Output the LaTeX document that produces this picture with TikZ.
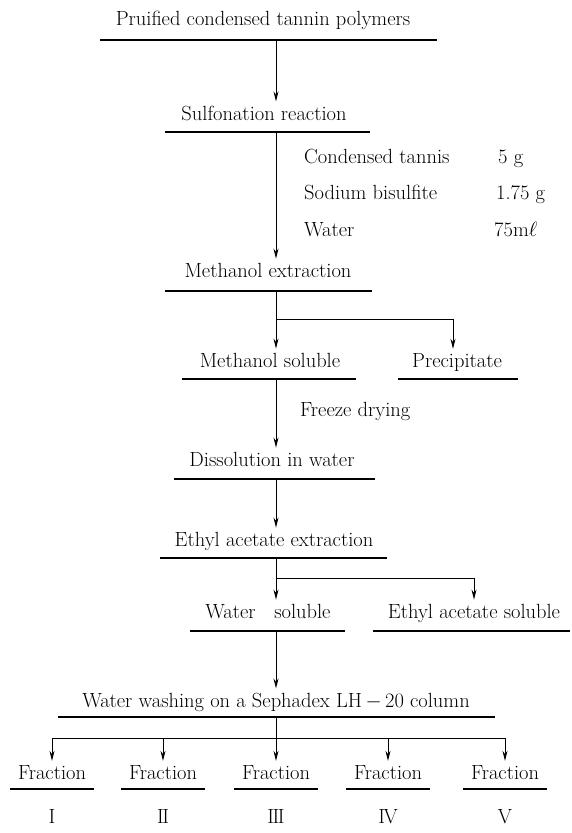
\documentclass[tikz,border=0pt]{standalone}
\usetikzlibrary{arrows.meta}
\begin{document}
\begin{tikzpicture}[x=1pt,y=-1pt,
  lbl/.style={inner sep=0pt, anchor=base, font=\fontsize{20.5}{24}\selectfont},
  lblw/.style={lbl, anchor=base west},
  uln/.style={fill=black, inner sep=0pt, minimum height=1.4pt},
  ln/.style={line width=1pt},
  arr/.style={line width=1pt, -{Stealth[length=10pt,width=5pt]}, shorten >=4pt}]
\useasboundingbox (0,0) rectangle (571,833);
\coordinate (ax) at (276,0);
% main column
\node[lbl] (t1) at (263,25) {Pruified condensed tannin polymers};
\node[uln, minimum width=337pt] (u1) at (268.5,40) {};
\node[lbl] (t2) at (264,120) {Sulfonation reaction};
\node[uln, minimum width=205pt] (u2) at (267,132) {};
\node[lblw] (r1) at (304,163) {Condensed tannis};
\node[lblw] (r2) at (304,199) {Sodium bisulfite};
\node[lblw] (r3) at (304,236) {Water};
\node[lblw] (a1) at (498,163) {5 g};
\node[lblw] (a2) at (496,199) {1.75 g};
\node[lblw] (a3) at (494,236) {75m$\ell$};
\node[lbl] (t3) at (268,277) {Methanol extraction};
\node[uln, minimum width=207pt] (u3) at (268.5,291) {};
\node[lbl] (t4) at (270,367) {Methanol soluble};
\node[uln, minimum width=174pt] (u4) at (269,379) {};
\node[lbl] (t5) at (457,367) {Precipitate};
\node[uln, minimum width=120pt] (u5) at (458,379) {};
\node[lblw] (fd) at (300,416) {Freeze drying};
\node[lbl] (t6) at (272,466) {Dissolution in water};
\node[uln, minimum width=201pt] (u6) at (274.5,479) {};
\node[lbl] (t7) at (274,546) {Ethyl acetate extraction};
\node[uln, minimum width=227pt] (u7) at (273.5,558) {};
\node[lbl] (t8) at (268,618) {Water\ \ \ soluble};
\node[uln, minimum width=155pt] (u8) at (267.5,631) {};
\node[lbl] (t9) at (474,618) {Ethyl acetate soluble};
\node[uln, minimum width=197pt] (u9) at (471.5,631) {};
\node[lbl] (t10) at (276,707) {Water washing on a Sephadex LH$\,-\,$20 column};
\node[uln, minimum width=437pt] (u10) at (276.5,717) {};
% fractions
\foreach \i/\x/\n in {1/52/I,2/163/{I\kern-1.5pt I},3/276/{I\kern-1.5pt I\kern-1.5pt I},4/388/{I\kern-1.5pt V},5/505/V}{
  \node[lbl] (f\i) at (\x,779) {Fraction};
  \node[uln, minimum width=84pt] (fu\i) at (\x,789) {};
  \node[lbl] (n\i) at (\x,823) {\n};
}
% connectors
\draw[arr] (u1.south -| ax) -- (t2.north -| ax);
\draw[arr] (u2.south -| ax) -- (t3.north -| ax);
\coordinate (b1) at (276,319);
\draw[arr] (u3.south -| ax) -- (t4.north -| ax);
\draw[arr] (b1) -| ([xshift=-4pt]t5.north);
\draw[arr] (u4.south -| ax) -- (t6.north -| ax);
\draw[arr] (u6.south -| ax) -- (t7.north -| ax);
\coordinate (b2) at (276,578);
\draw[arr] (u7.south -| ax) -- (t8.north -| ax);
\draw[arr] (b2) -| (t9.north);
\draw[arr] (u8.south -| ax) -- (t10.north -| ax);
\coordinate (b3) at (276,738);
\draw[arr] (u10.south -| ax) -- (f3.north -| ax);
\draw[ln] (f1.north |- b3) -- (f5.north |- b3);
\foreach \i in {1,2,4,5}{
  \draw[arr] (f\i.north |- b3) -- (f\i.north);
}
\end{tikzpicture}
\end{document}
